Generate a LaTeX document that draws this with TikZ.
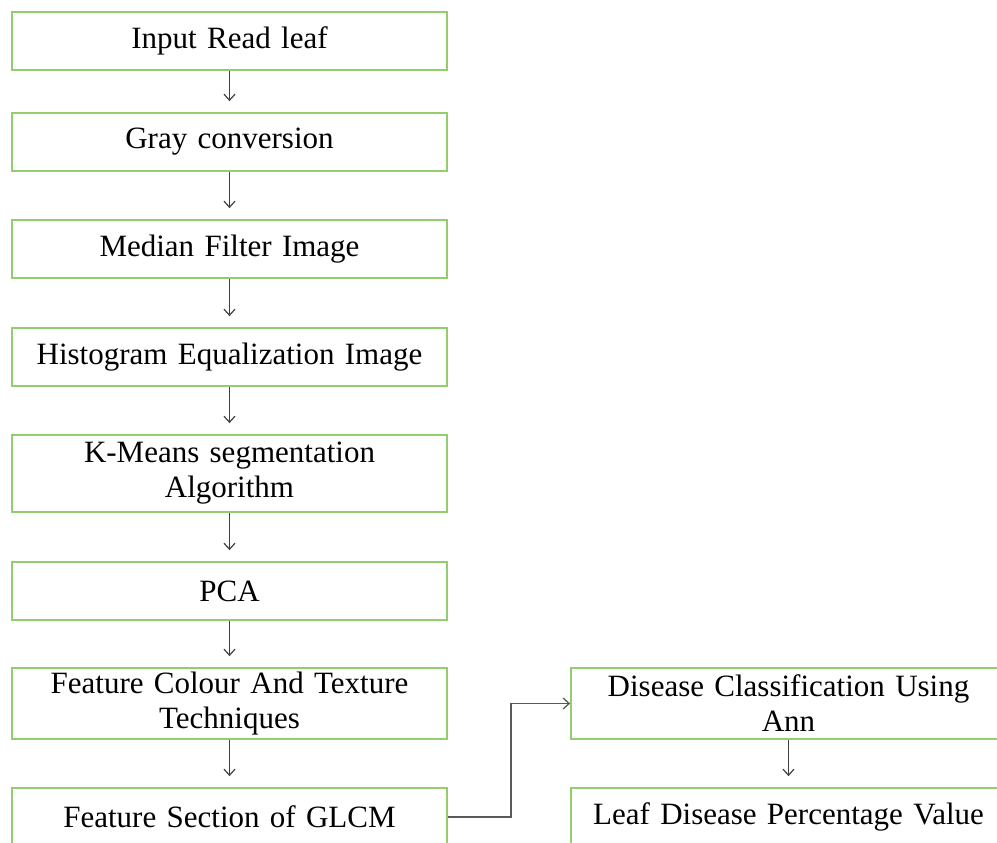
\documentclass[tikz,border=0pt]{standalone}
\usepackage{fontspec}
\setmainfont{Liberation Serif}
\usepackage{xcolor}
\usetikzlibrary{arrows.meta}
\definecolor{boxgreen}{RGB}{146,205,110}
\tikzset{
    stepbox/.style = {draw=boxgreen, line width=1.8pt, rectangle, align=center, inner sep=0pt,
        minimum width=435pt, minimum height=58pt, text width=425pt,
        font=\fontsize{31}{35}\selectfont},
    tallbox/.style = {stepbox, minimum height=71pt},
    flow/.style = {->, draw=black!75, line width=1.2pt, shorten >=11pt},
    elbow/.style = {->, draw=black!65, line width=1.3pt}
}

\begin{document}
\begin{tikzpicture}
    [x=1pt, y=-1pt, >={Straight Barb[length=6pt,width=11pt]}]
    \useasboundingbox (0,0) rectangle (997,843);

    % left column
    \node [stepbox] (read) at (229.5,41) {Input Read leaf};
    \node [stepbox] (gray) at (229.5,142) {Gray conversion};
    \node [stepbox] (median) at (229.5,249) {Median Filter Image};
    \node [stepbox] (hist) at (229.5,357) {Histogram Equalization Image};
    \node [stepbox, minimum height=77pt] (kmeans) at (229.5,473.5) {K-Means segmentation\\Algorithm};
    \node [stepbox] (pca) at (229.5,591) {PCA};
    \node [tallbox] (feat) at (229.5,703.5) {Feature Colour And Texture\\Techniques};
    \node [stepbox] (glcm) at (229.5,817) {Feature Section of GLCM};

    % right column
    \node [tallbox] (ann) at (788.5,703.5) {Disease Classification Using\\Ann};
    \node [stepbox] (value) at (788.5,817) {Leaf Disease Percentage Value};

    \foreach \a/\b in {read/gray, gray/median, median/hist, hist/kmeans,
                       kmeans/pca, pca/feat, feat/glcm, ann/value}
        \draw [flow] (\a.south) -- (\b.north);

    \draw [elbow] (glcm.east) -- ++(63,0) |- (ann.west);
\end{tikzpicture}
\end{document}
